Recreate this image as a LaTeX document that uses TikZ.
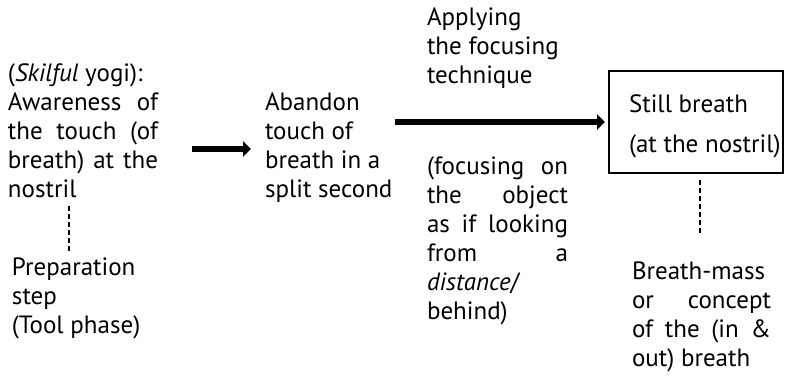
\documentclass[tikz,border=0pt]{standalone}
\usepackage{fontspec}
\setmainfont{PT Sans}
\usetikzlibrary{arrows.meta}
\newcommand\mainsize{\fontsize{25}{29}\selectfont}
\newcommand\fl{\rule{0pt}{20pt}}
\newcommand\jl[2]{\makebox[#1][s]{#2}}
\tikzset{
  txt/.style={anchor=north west, inner sep=0pt, outer sep=0pt, align=left, font=\mainsize},
  arr/.style={line width=5.5pt, -{Triangle[length=8pt,width=15pt]}},
  dsh/.style={line width=1.5pt, dash pattern=on 5pt off 3pt},
  boxst/.style={draw, line width=1.5pt, anchor=north west, minimum width=174pt, minimum height=102pt, inner sep=0pt}
}
\begin{document}
\begin{tikzpicture}[x=1pt, y=-1pt]
\useasboundingbox (0,0) rectangle (805,378);
\node[txt] (left) at (8,61) {\fl(\textit{Skilful} yogi):\\
  \jl{150pt}{Awareness of}\\
  \jl{150pt}{the touch (of}\\
  \jl{150pt}{breath) at the}\\
  nostril};
\node[txt] (prep) at (12,255) {\fl Preparation\\ step\\ (Tool phase)};
\node[txt] (aband) at (265,90) {\fl Abandon\\ touch of\\ breath in a\\ split second};
\node[txt] (apply) at (427,5) {\fl Applying\\ the focusing\\ technique};
\node[txt] (focus) at (427,154) {\fl\jl{141pt}{(focusing on}\\
  \jl{141pt}{the object}\\
  \jl{141pt}{as if looking}\\
  \jl{141pt}{from a}\\
  \textit{distance}/\\
  behind)};
\node[boxst] (box) at (608,70) {};
\node[txt] (still) at (629,92) {\fl Still breath\\[11pt] (at the nostril)};
\node[txt] (mass) at (632,259) {\fl\jl{139pt}{Breath-mass}\\
  \jl{139pt}{or concept}\\
  \jl{139pt}{of the (in \&}\\
  out) breath};
\coordinate (a1s) at (192,149);
\coordinate (a1e) at (251,149);
\coordinate (a2s) at (395,122);
\coordinate (d1s) at (69,206);
\coordinate (d1e) at (69,253);
\coordinate (d2s) at (700,180);
\coordinate (d2e) at (700,234);
\draw[arr] (a1s) -- (a1e);
\draw[arr, shorten >=3pt] (a2s) -- (a2s -| box.west);
\draw[dsh] (d1s) -- (d1e);
\draw[dsh] (d2s) -- (d2e);
\end{tikzpicture}
\end{document}
